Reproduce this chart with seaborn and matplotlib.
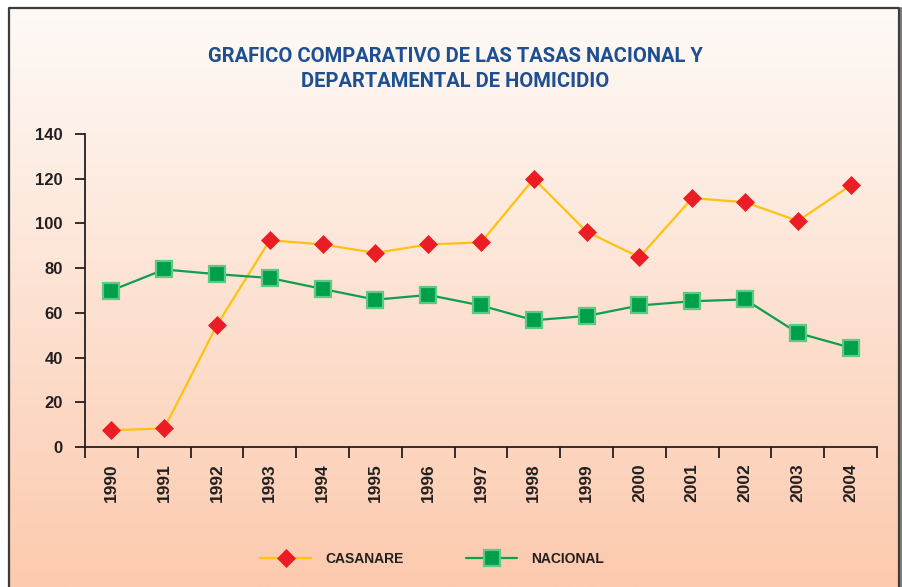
import numpy as np
import pandas as pd
import matplotlib
matplotlib.use("Agg")
import matplotlib.pyplot as plt
import seaborn as sns

years = ["1990", "1991", "1992", "1993", "1994", "1995", "1996", "1997",
         "1998", "1999", "2000", "2001", "2002", "2003", "2004"]
casanare = [7.5, 8.3, 54.6, 92.5, 90.6, 86.8, 90.6, 91.5,
            120.0, 96.3, 84.9, 111.3, 109.5, 101.1, 117.0]
nacional = [70.0, 79.4, 77.3, 75.6, 70.7, 65.9, 68.0, 63.3,
            56.7, 58.6, 63.3, 65.2, 66.0, 51.0, 44.4]
yticks = [0, 20, 40, 60, 80, 100, 120, 140]
title = "GRAFICO COMPARATIVO DE LAS TASAS NACIONAL Y\nDEPARTAMENTAL DE HOMICIDIO"

df = pd.DataFrame({"year": years, "pos": np.arange(len(years)),
                   "CASANARE": casanare, "NACIONAL": nacional})

sns.set_theme(style="white")
plt.rcParams["font.family"] = ["Liberation Sans", "DejaVu Sans"]

W, H = 902, 587
fig = plt.figure(figsize=(W / 100, H / 100), dpi=100)
fig.patch.set_facecolor("white")

# gradient background inside frame
bg = fig.add_axes([0, 0, 1, 1], zorder=0)
bg.set_axis_off()
top = np.array([0xfe, 0xfa, 0xf7]) / 255
bot = np.array([0xfc, 0xca, 0xae]) / 255
t = np.linspace(0, 1, 256)[:, None]
grad = (top[None, :] * (1 - t) + bot[None, :] * t)[:, None, :]
x0, x1 = 9 / W, 899 / W
y1 = 1 - 8 / H
bg.imshow(grad, aspect="auto", extent=[x0, x1, 0, y1], origin="upper")
bg.set_xlim(0, 1)
bg.set_ylim(0, 1)
bg.plot([x0, x0, x1, x1], [0, y1, y1, 0], color="#3c3c3c", lw=1.6)
bg.plot([x1 + 1.5 / W, x1 + 1.5 / W], [0, y1], color="#7a7a7a", lw=1.5)

ax = fig.add_axes([85 / W, 1 - 447 / H, (877 - 85) / W, (447 - 134) / H], zorder=1)
ax.patch.set_alpha(0)

sns.lineplot(data=df, x="pos", y="CASANARE", ax=ax, color="#ffc20e", lw=1.6,
             marker="D", markersize=9, markerfacecolor="#ec1c24",
             markeredgecolor="#ec1c24", markeredgewidth=0.5, label="CASANARE")
sns.lineplot(data=df, x="pos", y="NACIONAL", ax=ax, color="#0f9d50", lw=1.6,
             marker="s", markersize=11, markerfacecolor="#00a04a",
             markeredgecolor="#5cc985", markeredgewidth=1.6, label="NACIONAL")

ax.set_xlim(-0.5, len(years) - 0.5)
ax.set_ylim(0, 140)
ax.set_yticks(yticks)
ax.set_yticklabels([str(v) for v in yticks], fontsize=12, fontweight="bold", color="#231f20")
ax.set_xticks(df["pos"])
ax.set_xticklabels(years, rotation=90, fontsize=12.5, fontweight="bold", color="#231f20")
ax.set_xticks(np.arange(-0.5, len(years)), minor=True)
ax.tick_params(axis="x", which="major", length=0, pad=12)
ax.tick_params(axis="x", which="minor", length=8, width=1.3, color="#231f20", direction="out", bottom=True)
ax.tick_params(axis="y", length=7, width=1.3, color="#231f20", direction="out", left=True, pad=9)
ax.set_xlabel("")
ax.set_ylabel("")
for s in ["top", "right"]:
    ax.spines[s].set_visible(False)
for s in ["left", "bottom"]:
    ax.spines[s].set_color("#231f20")
    ax.spines[s].set_linewidth(1.3)
ax.grid(False)

handles, labels = ax.get_legend_handles_labels()
ax.legend_.remove()
fig.legend(handles, labels, loc="center", bbox_to_anchor=(432 / W, 1 - 559 / H),
           ncol=2, frameon=False, handlelength=3.7, columnspacing=4.5,
           handletextpad=1.0, prop={"weight": "bold", "size": 10}, labelcolor="#231f20")

fig.text(455 / W, 1 - 69 / H, title, ha="center", va="center", fontsize=14.5,
         fontweight="bold", color="#1d4f91", linespacing=1.45,
         family=["Roboto", "DejaVu Sans"])

fig.savefig("out.png", dpi=100, facecolor="white")
